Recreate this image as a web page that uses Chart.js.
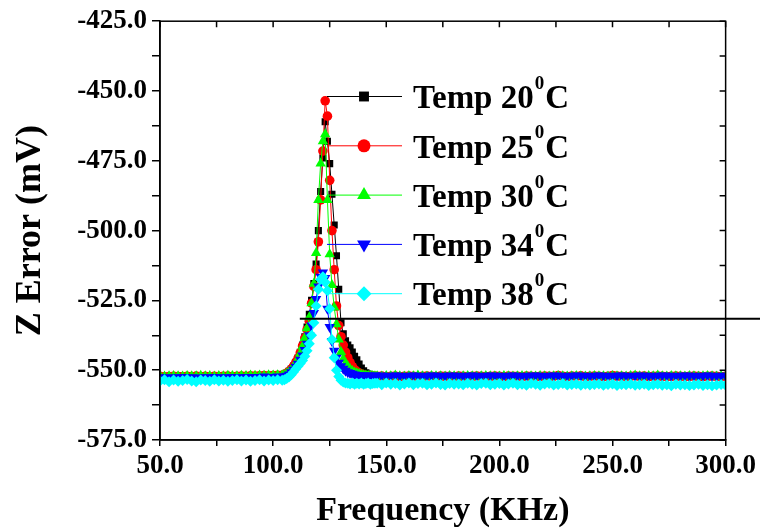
<!DOCTYPE html>
<html>
<head>
<meta charset="utf-8">
<script src="https://cdn.jsdelivr.net/npm/chart.js@4.4.0/dist/chart.umd.min.js"></script>
<style>
  html, body { margin: 0; padding: 0; background: #fff; }
</style>
</head>
<body>
<canvas id="chart" width="760" height="532"></canvas>
<script>
// frequency (KHz), 2 KHz steps on the flat parts, 1 KHz through the peak
const freq = [
  50, 52, 54, 56, 58, 60, 62, 64, 66, 68, 70, 72, 74, 76, 78, 80, 82, 84, 86, 88, 90, 92, 94, 96, 98, 100, 102, 104,
  105, 106, 107, 108, 109, 110, 111, 112, 113, 114, 115, 116, 117, 118, 119, 120, 121, 122, 123, 124, 125,
  126, 127, 128, 129, 130, 131, 132, 133, 134, 135, 136, 137, 138, 139, 140, 141, 142, 143, 144, 145,
  146, 148, 150, 152, 154, 156, 158, 160, 162, 164, 166, 168, 170, 172, 174, 176, 178, 180, 182, 184,
  186, 188, 190, 192, 194, 196, 198, 200, 202, 204, 206, 208, 210, 212, 214, 216, 218, 220, 222, 224,
  226, 228, 230, 232, 234, 236, 238, 240, 242, 244, 246, 248, 250, 252, 254, 256, 258, 260, 262, 264,
  266, 268, 270, 272, 274, 276, 278, 280, 282, 284, 286, 288, 290, 292, 294, 296, 298, 300
];

const temp20 = [
  -552.3, -552.2, -552.4, -552.3, -552.2, -552.1, -552.3, -552.2, -552.3, -552.2, -552.1, -552.2, -552.3, -552.2,
  -552.1, -552.2, -552.2, -552.1, -552.0, -552.1, -552.0, -552.1, -551.9, -552.0, -551.9, -551.8, -551.8, -551.7,
  -551.5, -551.0, -550.4, -549.6, -548.5, -547.2, -545.6, -543.6, -541.0, -538.0, -534.5, -530.0, -525.0, -519.0,
  -512.0, -500.0, -486.0, -474.0, -461.0, -468.0, -476.0, -487.0, -498.0, -509.0, -521.0, -533.0, -537.0, -539.5,
  -541.0, -542.0, -543.5, -545.0, -546.3, -547.8, -549.2, -550.2, -550.9, -551.4, -551.8, -552.0, -552.1,
  -552.1, -552.2, -552.3, -552.2, -552.0, -552.2, -552.3, -552.2, -552.1, -552.2,
  -552.3, -552.2, -551.9, -552.2, -552.3, -552.1, -552.2, -552.2, -552.3, -552.1,
  -552.2, -552.3, -552.2, -552.1, -552.2, -552.3, -552.2, -551.9, -552.2, -552.3,
  -552.1, -552.2, -552.2, -552.3, -552.1, -552.2, -552.3, -552.2, -552.1, -552.2,
  -552.2, -551.9, -552.3, -552.1, -552.2, -552.2, -552.3, -552.1, -552.2, -552.3,
  -552.2, -552.1, -552.2, -552.3, -552.2, -552.1, -551.9, -552.2, -552.3, -552.2,
  -552.1, -552.2, -552.3, -552.2, -552.2, -552.1, -552.3, -552.2, -552.1, -552.2,
  -552.3, -552.2, -552.1, -552.2, -552.3, -552.2, -552.1, -552.2
];

const temp25 = [
  -552.2, -552.4, -552.3, -552.2, -552.3, -552.4, -552.2, -552.3, -552.1, -552.3, -552.2, -552.4, -552.2, -552.3,
  -552.2, -552.1, -552.3, -552.2, -552.1, -552.2, -552.0, -552.1, -552.0, -551.9, -552.0, -551.9, -551.8, -551.8,
  -551.6, -551.1, -550.5, -549.7, -548.6, -547.3, -545.8, -543.8, -541.3, -538.5, -535.5, -532.5, -526.0, -520.0,
  -514.0, -504.0, -489.0, -471.5, -453.5, -459.0, -482.0, -500.0, -514.0, -527.0, -534.0, -538.0, -541.0, -543.5,
  -545.5, -547.3, -548.7, -549.8, -550.5, -551.0, -551.4, -551.7, -551.9, -552.0, -552.1, -552.1, -552.2,
  -552.2, -552.1, -552.3, -552.2, -552.1, -552.3, -552.2, -552.1, -552.2, -552.3,
  -552.2, -552.1, -552.2, -552.3, -552.1, -552.2, -552.2, -552.3, -552.1, -552.2,
  -552.3, -552.2, -552.1, -552.2, -552.3, -552.2, -552.1, -552.2, -552.3, -552.1,
  -552.2, -552.2, -552.3, -552.1, -552.2, -552.3, -552.2, -552.1, -552.2, -552.2,
  -551.9, -552.2, -552.3, -552.1, -552.2, -552.0, -552.3, -552.2, -552.1, -552.2,
  -552.3, -552.2, -551.9, -552.1, -552.2, -552.3, -552.2, -552.0, -552.2, -552.1,
  -552.3, -552.2, -552.1, -552.2, -552.3, -552.2, -552.1, -552.2, -552.3, -552.2,
  -552.1, -552.2, -552.3, -552.2, -552.1, -552.2, -552.3, -552.2
];

const temp30 = [
  -552.1, -552.3, -552.2, -552.1, -552.2, -552.3, -552.1, -552.2, -552.2, -552.0, -552.2, -552.1, -552.3, -552.1,
  -552.2, -552.0, -552.1, -552.2, -552.0, -552.1, -551.9, -552.0, -551.9, -552.0, -551.8, -551.9, -551.8, -551.8,
  -551.7, -551.2, -550.6, -549.8, -548.8, -547.5, -546.0, -544.0, -541.5, -538.5, -535.0, -531.0, -526.0, -519.0,
  -508.0, -489.0, -476.0, -468.0, -465.5, -489.0, -508.5, -519.5, -527.5, -533.5, -539.0, -543.5, -546.0, -547.6,
  -548.7, -549.6, -550.3, -550.8, -551.1, -551.4, -551.6, -551.8, -551.9, -552.0, -552.1, -552.1, -552.2,
  -552.2, -552.3, -552.1, -552.2, -551.9, -552.2, -552.3, -552.1, -552.2, -551.9,
  -552.2, -552.3, -552.1, -552.2, -552.2, -552.3, -552.1, -552.2, -552.3, -552.2,
  -552.1, -552.2, -552.3, -552.2, -552.1, -552.2, -552.2, -552.3, -552.1, -552.2,
  -552.3, -552.2, -552.1, -552.2, -552.2, -552.3, -552.1, -552.2, -552.3, -552.2,
  -552.1, -552.2, -552.3, -552.2, -552.1, -552.2, -552.3, -552.2, -552.1, -552.2,
  -552.2, -552.3, -552.1, -552.2, -552.2, -552.3, -552.1, -551.9, -552.2, -552.3,
  -552.1, -552.2, -551.9, -552.2, -552.3, -552.1, -552.2, -552.2, -552.3, -552.1,
  -552.2, -552.3, -552.2, -552.1, -552.2, -552.3, -552.2, -552.1
];

const temp34 = [
  -552.6, -552.5, -552.7, -552.5, -552.6, -552.4, -552.6, -552.5, -552.7, -552.6, -552.5, -552.6, -552.4, -552.5,
  -552.6, -552.5, -552.4, -552.6, -552.5, -552.4, -552.5, -552.4, -552.5, -552.3, -552.4, -552.4, -552.3, -552.4,
  -552.3, -552.0, -551.5, -550.7, -549.8, -548.8, -547.7, -546.3, -544.7, -542.8, -540.5, -537.5, -534.0, -529.5,
  -524.5, -520.0, -516.5, -515.0, -517.0, -528.0, -534.5, -539.5, -543.0, -545.5, -547.3, -548.6, -549.5, -550.2,
  -550.7, -551.0, -551.3, -551.5, -551.7, -551.8, -551.9, -551.9, -552.0, -551.9, -552.0, -552.0, -551.9,
  -552.0, -551.9, -552.1, -552.0, -551.9, -552.0, -552.1, -552.0, -551.9, -552.0,
  -552.1, -552.0, -551.9, -552.0, -552.0, -552.1, -551.9, -552.0, -552.0, -552.1,
  -552.0, -551.9, -552.0, -552.1, -552.0, -551.9, -552.0, -552.0, -552.1, -552.0,
  -551.9, -552.0, -552.1, -552.0, -552.0, -551.9, -552.0, -552.1, -552.0, -551.9,
  -552.0, -552.0, -552.1, -552.0, -551.9, -552.0, -552.0, -552.1, -552.0, -551.9,
  -552.0, -552.1, -552.0, -552.0, -551.9, -552.0, -552.1, -552.0, -551.9, -552.0,
  -552.0, -552.1, -552.0, -551.9, -552.0, -552.0, -552.1, -552.0, -551.9, -552.0,
  -552.0, -552.1, -552.0, -551.9, -552.0, -552.1, -552.0, -552.0
];

const temp38 = [
  -553.9, -553.4, -554.1, -553.5, -554.0, -553.7, -553.3, -553.9, -554.1, -553.5, -553.7, -554.0, -553.4, -553.9,
  -553.6, -554.0, -553.7, -553.4, -553.9, -553.5, -554.0, -553.7, -553.4, -553.9, -553.5, -553.7, -553.4, -553.6,
  -553.4, -553.0, -552.4, -551.6, -550.6, -549.6, -548.6, -547.6, -546.5, -545.0, -543.0, -540.5, -537.5, -533.0,
  -527.0, -521.0, -517.5, -516.5, -518.5, -521.5, -528.0, -539.0, -545.5, -550.0, -552.3, -553.6, -554.2, -554.6,
  -554.7, -554.9, -554.6, -555.0, -554.7, -554.9, -554.6, -555.0, -554.8, -554.6, -555.0, -554.8, -554.7,
  -554.7, -555.2, -554.6, -555.0, -554.8, -555.3, -554.9, -554.6, -555.2, -554.8,
  -554.7, -555.2, -555.0, -554.6, -555.1, -555.3, -554.8, -555.0, -554.9, -555.2,
  -554.7, -555.0, -555.3, -554.8, -554.7, -555.2, -555.0, -554.8, -555.3, -554.9,
  -554.7, -555.2, -555.0, -555.4, -554.8, -555.0, -555.4, -554.9, -554.8, -555.3,
  -555.1, -554.8, -555.3, -555.1, -554.9, -555.4, -555.0, -555.3, -555.1, -554.9,
  -555.4, -555.1, -554.9, -555.5, -555.1, -555.2, -554.9, -555.4, -555.2, -555.0,
  -555.5, -555.2, -555.0, -555.4, -555.2, -555.6, -555.0, -555.3, -555.2, -555.5,
  -555.3, -555.0, -555.5, -555.2, -555.6, -555.3, -555.1, -555.4
];

const seriesValues = [temp20, temp25, temp30, temp34, temp38];
const seriesTemps = ['20', '25', '30', '34', '38'];
const seriesColors = ['#000000', '#ff0000', '#00ff00', '#0000ff', '#00ffff'];
const seriesStyles = ['rect', 'circle', 'triangle', 'triangle', 'rectRot'];
const seriesRotation = [0, 0, 0, 180, 0];
const seriesRadius = [5, 4.8, 6, 6, 5.5];
const legendRadius = [7, 6.5, 8, 8, 7.5];

// stray horizontal rule in the original figure (mV, starting frequency KHz)
const ruleValue = -531.6;
const ruleStart = 111.8;

const serif = '"Liberation Serif", "Times New Roman", serif';

const datasets = seriesValues.map((vals, i) => ({
  label: 'Temp ' + seriesTemps[i] + '\u00B0C',
  data: freq.map((f, j) => ({ x: f, y: vals[j] })),
  borderColor: seriesColors[i],
  backgroundColor: seriesColors[i],
  borderWidth: 1,
  pointStyle: seriesStyles[i],
  pointRotation: seriesRotation[i],
  pointRadius: seriesRadius[i],
  pointBorderWidth: 0,
  pointBackgroundColor: seriesColors[i],
  order: 5 - i
}));

const framePlugin = {
  id: 'frame',
  afterDatasetsDraw(chart) {
    const ctx = chart.ctx;
    const a = chart.chartArea;
    const xs = chart.scales.x, ys = chart.scales.y;
    ctx.save();
    ctx.strokeStyle = '#000';
    ctx.lineWidth = 2;
    ctx.beginPath();
    ctx.moveTo(xs.getPixelForValue(ruleStart), ys.getPixelForValue(ruleValue));
    ctx.lineTo(chart.width, ys.getPixelForValue(ruleValue));
    ctx.stroke();

    ctx.lineWidth = 1.5;
    ctx.strokeRect(a.left, a.top, a.right - a.left, a.bottom - a.top);
    ctx.beginPath();
    xs.ticks.forEach(t => {
      const px = xs.getPixelForValue(t.value);
      ctx.moveTo(px, a.top);
      ctx.lineTo(px, a.top + 6);
    });
    ys.ticks.forEach(t => {
      const py = ys.getPixelForValue(t.value);
      ctx.moveTo(a.right, py);
      ctx.lineTo(a.right - 6, py);
    });
    ctx.stroke();
    ctx.restore();
  }
};

const legendPlugin = {
  id: 'tempLegend',
  afterDraw(chart) {
    const ctx = chart.ctx;
    const a = chart.chartArea;
    ctx.save();
    seriesTemps.forEach((t, i) => {
      const y = a.top + 75.3 + i * 49.3;
      ctx.strokeStyle = seriesColors[i];
      ctx.lineWidth = 1;
      ctx.beginPath();
      ctx.moveTo(a.left + 167, y);
      ctx.lineTo(a.left + 242, y);
      ctx.stroke();
      ctx.fillStyle = seriesColors[i];
      Chart.helpers.drawPoint(ctx, {
        pointStyle: seriesStyles[i],
        rotation: seriesRotation[i],
        radius: legendRadius[i],
        borderWidth: 0
      }, a.left + 204, y);

      ctx.fillStyle = '#000';
      ctx.textBaseline = 'alphabetic';
      ctx.textAlign = 'left';
      let tx = a.left + 253;
      ctx.font = 'bold 33px ' + serif;
      const main = 'Temp ' + t;
      ctx.fillText(main, tx, y + 11.7);
      tx += ctx.measureText(main).width + 1;
      ctx.font = 'bold 19px ' + serif;
      ctx.fillText('0', tx, y - 7.5);
      tx += ctx.measureText('0').width + 1;
      ctx.font = 'bold 33px ' + serif;
      ctx.fillText('C', tx, y + 11.7);
    });
    ctx.restore();
  }
};

new Chart(document.getElementById('chart'), {
  type: 'line',
  data: { datasets: datasets },
  options: {
    responsive: false,
    animation: false,
    layout: { padding: { top: 19, right: 31, left: 0, bottom: 0 } },
    plugins: {
      legend: { display: false },
      tooltip: { enabled: false }
    },
    scales: {
      x: {
        type: 'linear',
        min: 50,
        max: 300,
        afterFit: s => { s.height = 92; },
        ticks: {
          stepSize: 25,
          autoSkip: false,
          maxRotation: 0,
          padding: 4,
          color: '#000',
          font: { family: serif, size: 27, weight: 'bold' },
          callback: v => (v % 50 === 0 ? v.toFixed(1) : '')
        },
        grid: { drawOnChartArea: false, tickLength: 6, color: '#000', lineWidth: 1.5 },
        border: { display: true, color: '#000', width: 1.5 },
        title: {
          display: true,
          text: 'Frequency (KHz)',
          color: '#000',
          padding: { top: 0, bottom: 0 },
          font: { family: serif, size: 34, weight: 'bold' }
        }
      },
      y: {
        min: -575,
        max: -425,
        afterFit: s => { s.width = 160; },
        ticks: {
          stepSize: 12.5,
          autoSkip: false,
          padding: 5,
          color: '#000',
          font: { family: serif, size: 27, weight: 'bold' },
          callback: v => (Math.abs(v % 25) < 1e-6 ? v.toFixed(1) : '')
        },
        grid: { drawOnChartArea: false, tickLength: 8, color: '#000', lineWidth: 1.5 },
        border: { display: true, color: '#000', width: 1.5 },
        title: {
          display: true,
          text: 'Z Error (mV)',
          color: '#000',
          padding: { top: 9, bottom: 0 },
          font: { family: serif, size: 36, weight: 'bold' }
        }
      }
    }
  },
  plugins: [framePlugin, legendPlugin]
});
</script>
</body>
</html>
